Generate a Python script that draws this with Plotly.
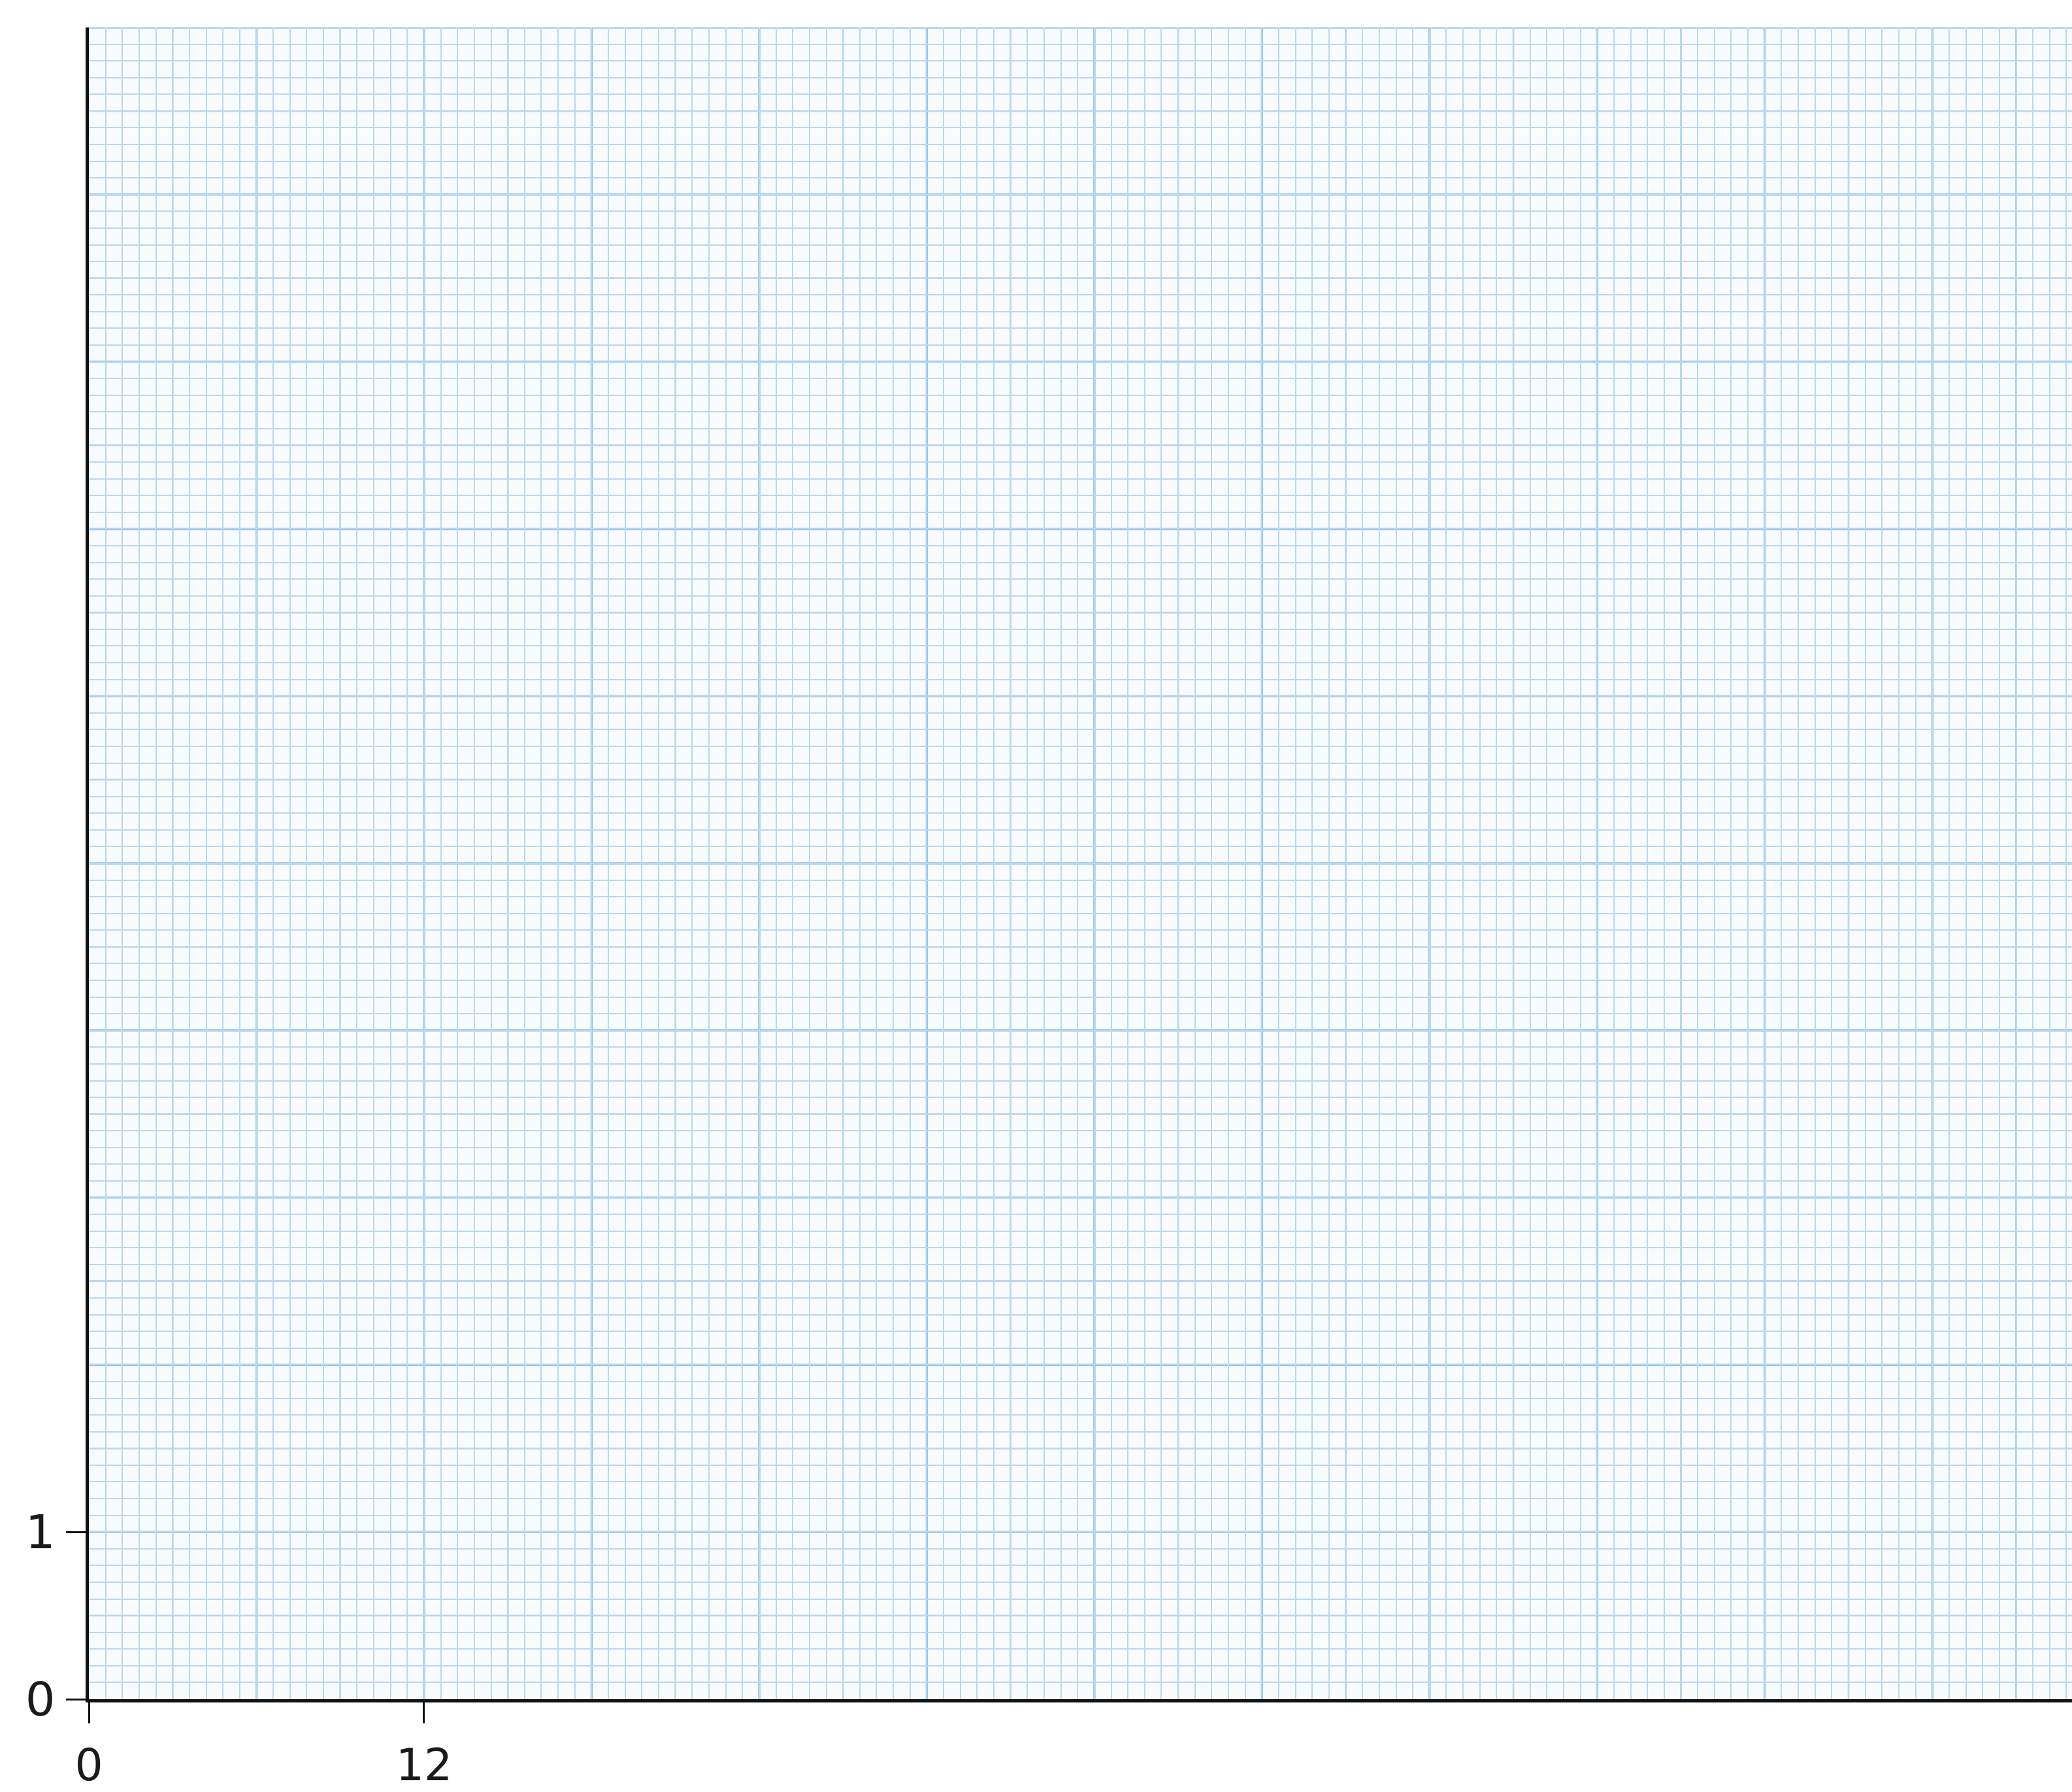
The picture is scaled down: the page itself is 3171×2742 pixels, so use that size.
import numpy as np
import plotly.graph_objects as go

# Axis extents and labelled ticks
x_range = [0, 71.0]
y_range = [0, 10]
x_tick_vals = [0, 12]
y_tick_vals = [0, 1]

# Graph-paper spacing: major / medium / minor rulings
x_major, x_medium, x_minor = 6, 3, 0.6
y_major, y_medium, y_minor = 1, 0.5, 0.1

major_color = "#8fc2e9"
medium_color = "#a1c2de"
minor_color = "#bad8ee"

fig = go.Figure()

# invisible trace so the axes are built
fig.add_trace(go.Scatter(x=x_range, y=y_range, mode="markers",
                         marker=dict(opacity=0), hoverinfo="skip",
                         showlegend=False))

shapes = []
# medium rulings sit between the minor and major lines
for xv in np.arange(x_medium, x_range[1], x_major):
    shapes.append(dict(type="line", xref="x", yref="paper", x0=xv, x1=xv,
                       y0=0, y1=1, layer="between",
                       line=dict(color=medium_color, width=2.5)))
for yv in np.arange(y_medium, y_range[1], y_major):
    shapes.append(dict(type="line", xref="paper", yref="y", x0=0, x1=1,
                       y0=yv, y1=yv, layer="between",
                       line=dict(color=medium_color, width=2.5)))
# major rulings at every multiple, not just the labelled ticks
for xv in np.arange(x_major, x_range[1], x_major):
    shapes.append(dict(type="line", xref="x", yref="paper", x0=xv, x1=xv,
                       y0=0, y1=1, layer="between",
                       line=dict(color=major_color, width=3.5)))
for yv in np.arange(y_major, y_range[1] + 0.01, y_major):
    shapes.append(dict(type="line", xref="paper", yref="y", x0=0, x1=1,
                       y0=yv, y1=yv, layer="between",
                       line=dict(color=major_color, width=3.5)))

x_font = dict(family="DejaVu Sans", size=68, color="#1a1a1a")
y_font = dict(family="DejaVu Sans", size=72, color="#1a1a1a")

fig.update_layout(
    width=3171, height=2742,
    margin=dict(l=136, r=0, t=42, b=142, pad=0),
    paper_bgcolor="white",
    plot_bgcolor="#f8fcff",
    shapes=shapes,
    showlegend=False,
    xaxis=dict(
        range=x_range, tickmode="array", tickvals=x_tick_vals,
        ticktext=[str(v) for v in x_tick_vals],
        showgrid=False, zeroline=False, automargin=False,
        showline=True, linecolor="#111111", linewidth=5,
        ticks="outside", ticklen=32, tickwidth=3, tickcolor="#111111",
        tickfont=x_font, ticklabelstandoff=5,
        minor=dict(dtick=x_minor, tick0=0, showgrid=True,
                   gridcolor=minor_color, gridwidth=2, ticks=""),
    ),
    yaxis=dict(
        range=y_range, tickmode="array", tickvals=y_tick_vals,
        ticktext=[str(v) for v in y_tick_vals],
        showgrid=False, zeroline=False, automargin=False,
        showline=True, linecolor="#111111", linewidth=5,
        ticks="outside", ticklen=30, tickwidth=3, tickcolor="#111111",
        tickfont=y_font, ticklabelstandoff=2,
        minor=dict(dtick=y_minor, tick0=0, showgrid=True,
                   gridcolor=minor_color, gridwidth=2, ticks=""),
    ),
)

fig.write_html("out.html")
